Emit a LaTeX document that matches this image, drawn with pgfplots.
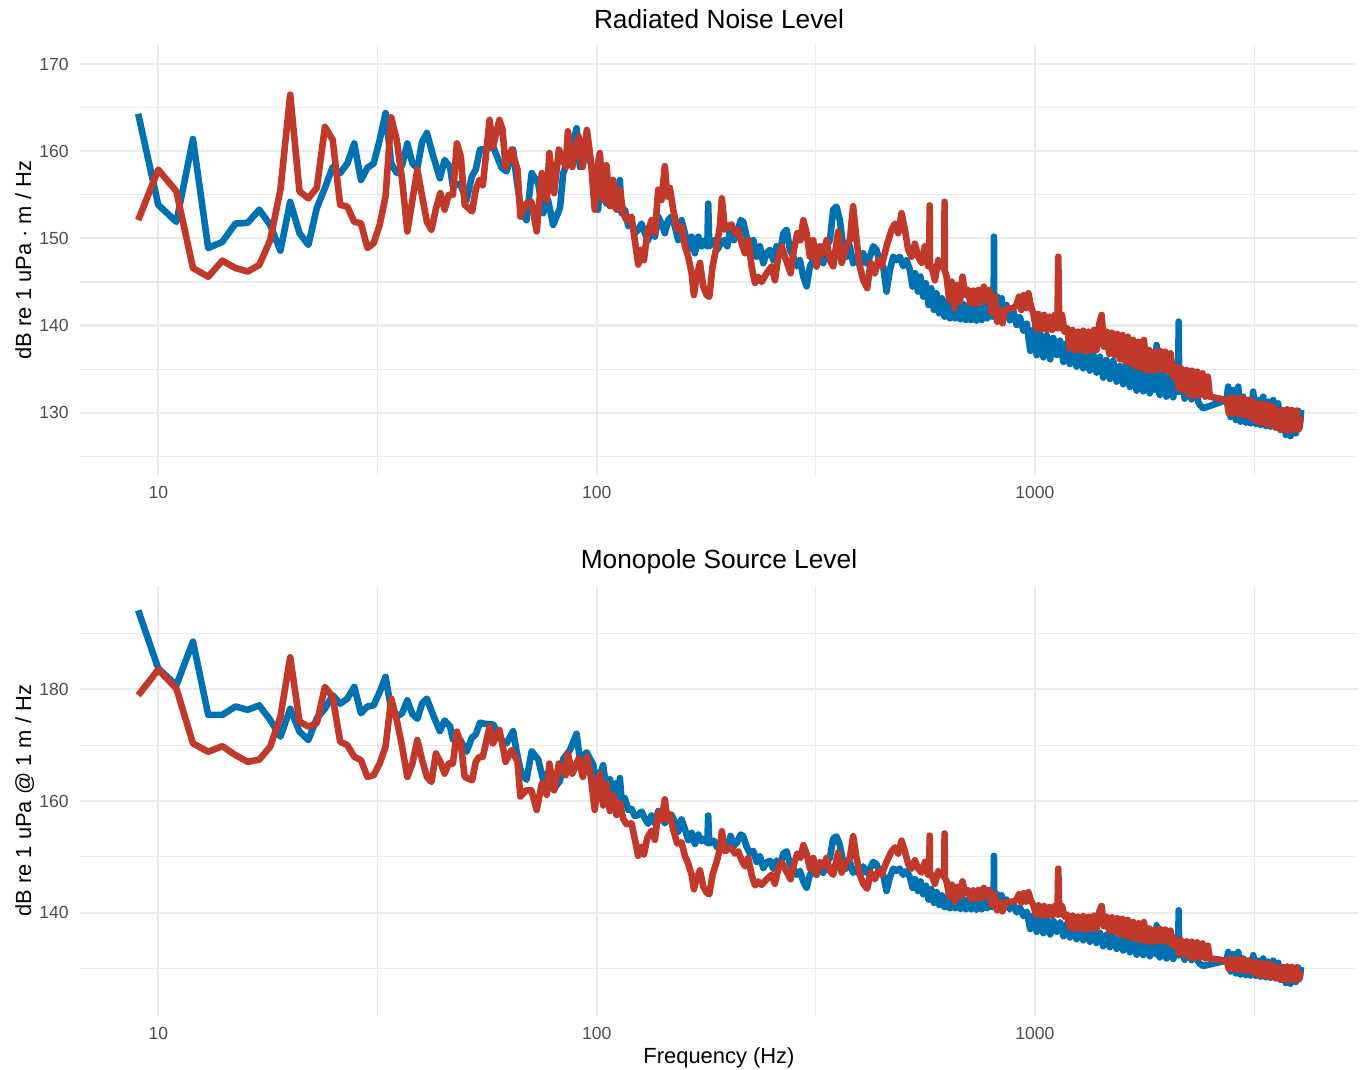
\documentclass[border=0pt]{standalone}
\usepackage{fontspec}
\setmainfont{Liberation Sans}
\usepackage{pgfplots}
\usepackage{pgfplotstable}
\pgfplotsset{compat=1.18}
\definecolor{cblue}{HTML}{0072B2}
\definecolor{cred}{HTML}{C0392B}
\definecolor{grid92}{HTML}{EBEBEB}
\definecolor{grey30}{HTML}{4D4D4D}

% ---------- shared high-frequency part (identical in both panels) ----------
\pgfplotstableread{
f y
266.6 150.6
271.3 151.0
276.0 148.7
280.9 147.9
285.9 146.8
290.9 147.5
296.1 145.6
301.3 144.5
306.6 146.8
312.0 147.5
317.5 146.8
323.1 148.3
328.8 147.15
334.6 149.1
340.5 149.8
346.5 153.3
352.6 153.65
358.8 152.1
365.2 149.1
371.6 147.9
378.2 149.1
384.8 147.15
391.7 147.9
398.6 146.8
405.6 148.3
412.8 147.15
420.1 147.9
427.5 149.1
435.0 148.7
442.7 147.15
450.5 146.8
458.5 143.9
466.7 146.4
474.9 147.9
483.3 147.5
491.8 147.9
500.5 146.8
509.3 147.5
518.3 146.38
525.6 144.47
533.0 146.0
540.6 143.9
548.2 145.62
556.0 143.32
563.8 144.85
571.8 142.36
579.8 144.28
588.0 141.79
596.2 143.7
604.6 141.41
613.2 143.13
621.8 141.02
630.6 142.75
639.5 140.83
648.5 142.55
657.6 140.83
666.9 142.63
676.2 140.72
685.7 142.48
695.4 140.64
705.2 142.36
715.1 140.64
725.1 142.25
735.4 140.57
745.8 142.17
756.3 140.64
766.9 142.36
777.8 140.83
789.0 142.75
798.8 141.02
805 142.55
806 150.2
807 142.36
819.6 143.32
831.8 141.6
839 143.13
847 141.14
861 142.37
876 140.6
892 141.68
908 140.07
924 140.95
941 139.42
958 140.22
975 137.1
991 139.5
1009 136.6
1027 139.19
1045 136.36
1064 138.88
1083 136.13
1101 138.58
1121 136.62
1141 138.27
1161 135.82
1180 137.96
1201 135.59
1222 137.39
1244 135.29
1266 137.35
1288 135.09
1311 137.0
1334 134.83
1358 136.74
1382 134.6
1406 136.43
1431 134.02
1456 136.05
1482 133.87
1508 135.97
1535 133.56
1562 135.36
1589 133.26
1617 135.51
1646 132.95
1675 135.29
1705 132.53
1735 135.09
1765 132.45
1797 134.83
1828 132.22
1861 134.71
1887 132.6
1894 137.77
1900 133.0
1927 132.03
1961 134.52
1995 131.84
2031 134.14
2067 131.76
2103 134.44
2121 132.4
2127 140.45
2133 132.4
2155 134.9
2194 131.61
2236 134.52
2276 131.53
2316 133.75
2357 131.27
2377 130.9
2419 130.5
2735 131.46
2759 133.0
2793 129.5
2832 132.6
2872 129.16
2908 133.0
2943 128.97
2985 131.84
3027 128.86
3064 131.46
3102 128.78
3146 132.42
3191 128.7
3230 131.46
3270 128.59
3316 131.84
3362 128.47
3404 131.27
3446 128.4
3494 131.46
3544 128.28
3587 131.07
3632 128.01
3683 129.54
3735 127.44
3781 129.35
3828 127.32
3882 129.74
3937 127.63
3984 130.23
4019 128.4
4046 130.31
}\bhigh

\pgfplotstableread{
f y
183.9 146.8
187.8 149.1
191.1 151.4
193.1 154.6
196.2 151.0
199.6 151.4
203.2 151.6
206.8 150.6
210.4 151.0
214.2 149.4
218.0 148.3
221.8 149.8
225.7 146.8
229.7 144.9
233.7 145.6
237.9 145.0
244.2 146.0
250.7 146.8
255.1 145.2
259.7 147.9
264.3 149.1
268.9 147.9
273.6 146.8
277.0 146.0
281.9 148.7
286.9 150.6
291.9 149.8
296.1 152.1
301.3 150.6
306.6 147.9
312.0 149.8
317.5 146.8
323.1 149.1
328.8 148.3
334.6 149.8
340.5 147.5
346.5 146.8
355.7 150.8
362.3 147.2
371.6 149.1
378.2 149.8
384.8 153.7
391.7 149.8
398.6 146.8
405.6 145.2
414.3 144.3
421.6 147.2
431.2 146.0
438.8 147.5
446.6 146.8
458.5 149.1
470.8 151.0
479.1 151.7
487.5 150.6
496.1 152.9
504.9 151.0
513.8 148.7
522.9 147.9
532.1 149.4
541.5 147.9
551.1 147.2
560.9 149.1
570.7 146.8
574 146.8
575 153.8
576 146.8
580.8 146.8
591.0 145.2
601.5 147.5
612.1 146.8
621 146.5
622 154.2
623 146.3
628.4 145.62
637.3 142.94
646.2 145.04
655.3 142.0
664.5 144.66
673.8 142.75
683.3 145.62
692.9 143.51
702.6 144.09
712.5 142.55
722.6 144.01
732.8 142.48
743.1 144.09
753.6 142.63
764.3 144.47
775.0 142.94
786.0 144.09
797.0 141.41
808.6 143.32
819.6 140.45
831.8 141.79
843 140.26
854 141.79
869 142.0
892 142.0
908 142.37
919 143.32
930 141.79
942 143.5
954 142.0
966 143.7
979 142.17
991 141.41
1005 139.69
1019 141.33
1034 139.57
1049 141.22
1064 139.5
1079 141.02
1094 139.5
1109 141.22
1125 139.69
1130 147.9
1136 139.69
1152 141.22
1168 139.3
1184 139.69
1201 137.39
1218 139.5
1235 137.12
1253 139.3
1270 137.2
1288 139.42
1306 137.0
1325 139.3
1344 137.12
1363 139.5
1382 137.2
1401 140.18
1419 141.22
1436 137.58
1456 139.3
1477 136.74
1498 139.19
1519 136.62
1540 139.04
1562 136.13
1584 138.92
1606 135.86
1628 138.73
1651 135.67
1675 138.35
1699 135.29
1723 138.15
1747 135.09
1772 138.35
1797 134.9
1822 137.2
1848 134.83
1874 137.0
1900 134.9
1927 137.12
1954 134.98
1982 137.0
2010 134.71
2038 136.82
2067 134.14
2096 135.29
2126 132.8
2155 135.09
2186 132.53
2217 134.9
2248 132.03
2280 134.83
2312 131.92
2344 134.71
2377 132.03
2411 134.52
2445 131.84
2479 134.14
2505 131.84
2735 131.46
2769 129.93
2802 131.76
2837 129.93
2872 131.65
2908 129.85
2943 131.76
2980 129.74
3016 131.53
3054 129.62
3091 131.46
3130 129.35
3168 131.15
3208 128.97
3247 131.0
3287 128.86
3327 131.0
3368 128.7
3410 130.88
3452 128.59
3494 130.69
3537 128.32
3581 130.23
3625 128.09
3670 130.31
3715 128.01
3761 130.39
3808 127.94
3855 130.31
3902 128.01
3950 130.23
3999 128.09
4040 129.54
}\rhigh

% ---------- top panel, low/mid frequencies ----------
\pgfplotstableread{
f y
9 164.3
10 153.85
11 151.9
12 161.4
13 148.9
14 149.6
15 151.7
16 151.8
17 153.3
18 151.55
19 148.6
20 154.2
21 150.6
22 149.25
23 153.5
24 155.8
25 158.2
26 157.5
27 158.6
28 160.9
29 156.7
30 158.1
31 158.6
32 161.3
33 164.4
34 158.6
35 157.5
36 158.4
37 160.9
38 158.6
39 158.1
40 161.1
41 162.1
42.4 159.4
43.9 156.9
45 159.0
46.3 158.2
47 156.0
48.8 156.3
50.5 154.4
51.9 157.1
53 157.9
54.2 160.2
55.6 160.2
58.1 160.5
60.7 158.1
62.3 157.7
64.5 160.2
65.7 156.7
67.4 152.9
69.2 152.1
71.1 157.5
73.6 156.3
75.5 152.9
77.5 154.4
79.6 151.55
82.5 153.5
83.9 157.5
86.9 159.4
90.0 162.65
91.6 158.2
94.9 159.8
98.2 157.9
100.8 153.3
101.7 156.3
103.5 158.25
105.3 154.0
107.2 156.0
109.1 153.7
111.0 155.6
112.6 153.3
113.0 156.7
114.0 152.9
116.0 153.3
118.1 151.4
120.1 151.7
122.2 150.6
124.4 151.0
126.6 151.7
128.8 150.6
131.1 149.8
133.4 151.4
135.8 150.2
138.2 152.5
140.6 151.7
143.1 150.6
145.6 152.1
148.2 152.5
150.8 151.4
153.5 149.8
156.2 152.1
159.0 150.6
161.8 148.7
164.7 150.2
167.6 148.3
170.6 150.2
173.6 149.1
176.6 149.8
178.9 149.1
179.7 154.0
180.7 149.1
185.2 149.8
188.4 148.7
191.8 149.4
195.2 149.8
198.6 149.1
202.1 151.4
205.7 149.8
209.3 150.6
213.1 152.1
216.1 151.9
219.9 150.2
223.8 149.1
227.7 149.8
231.7 147.9
235.8 149.1
240.0 147.15
244.2 148.3
248.5 148.7
252.9 147.5
257.4 149.1
262.0 148.3
}\tb
\pgfplotstablevertcat{\tb}{\bhigh}

\pgfplotstableread{
f y
9 152.1
10 157.9
11 155.4
12 146.6
13 145.6
14 147.45
15 146.6
16 146.2
17 146.95
18 149.8
19 155.6
20 166.5
21 155.4
22 154.6
23 155.8
24 162.8
25 161.3
26 153.85
27 153.65
28 151.9
29 151.75
30 148.9
31 149.45
32 151.55
33 154.8
34 163.9
35 161.3
36 156.7
37 150.8
38 154.4
39 157.9
40 154.8
41 151.9
42 151.0
43 153.4
44 155.2
45 153.3
46 155.0
47 155.0
48 160.9
49 159.4
50 153.85
52 153.1
53 155.6
54 156.7
55 156.1
57 163.6
58 160.5
60 163.6
61 162.5
62 158.2
64 160.2
66 157.9
67 152.5
69 154.0
71 154.2
73 150.8
75 157.5
77 154.4
78 159.8
80 155.2
82 160.2
85 158.2
86 162.3
88 158.2
91 161.7
93 158.2
95 162.45
97 159.0
99 153.3
101 159.0
101.7 159.8
103.5 154.4
105.3 158.4
107.2 153.7
109.1 156.7
111.0 153.3
113.0 155.6
115.0 152.9
117.0 152.1
120.1 152.5
122.2 149.8
124.4 147.0
126.6 148.7
128.2 147.5
130.5 150.6
133.4 152.1
135.8 150.6
138.2 155.6
140.6 154.4
143.1 158.3
144.9 154.8
146.9 155.8
149.5 153.3
152.7 151.0
156.2 151.4
159.0 149.1
161.8 147.9
164.7 146.0
166.7 143.5
169.1 145.6
172.1 147.2
175.1 144.5
178.2 143.5
180.7 143.3
}\tr
\pgfplotstablevertcat{\tr}{\rhigh}

% ---------- bottom panel, low/mid frequencies ----------
\pgfplotstableread{
f y
9 194.1
10 183.7
11 180.7
12 188.5
13 175.4
14 175.4
15 176.9
16 176.3
17 177.1
18 174.5
19 171.5
20 176.5
21 172.4
22 170.9
23 174.8
24 176.5
25 178.9
26 177.4
27 178.3
28 180.4
29 175.7
30 176.9
31 177.1
32 179.5
33 182.2
34 176.4
35 175.1
36 175.7
37 178.0
38 175.5
39 174.7
40 177.5
41 178.3
42.4 175.3
43.9 172.5
45 174.4
46.3 173.35
47 171.0
48.8 171.0
50.5 168.8
51.9 171.3
53 171.9
54.2 174.0
55.6 173.8
58.1 173.7
60.7 170.9
62.3 170.3
64.5 172.5
65.7 168.8
67.4 164.8
69.2 163.8
71.1 168.9
73.6 167.4
75.5 163.8
77.5 165.1
79.6 162.0
82.5 163.6
83.9 167.5
86.9 169.1
90.0 172.0
91.6 167.4
94.9 168.7
98.2 166.5
100.8 161.7
101.7 164.6
103.5 166.4
105.3 162.0
107.2 163.9
109.1 161.4
111.0 163.2
112.6 160.7
113.0 164.1
114.0 160.2
116.0 160.5
118.1 158.4
120.1 158.6
122.2 157.3
124.4 157.5
126.6 158.1
128.8 156.9
131.1 155.9
133.4 157.4
135.8 156.0
138.2 158.2
140.6 157.2
143.1 156.0
145.6 157.3
148.2 157.55
150.8 156.3
153.5 154.5
156.2 156.7
159.0 155.0
161.8 153.0
164.7 154.3
167.6 152.3
170.6 154.0
173.6 152.8
176.6 153.3
178.9 152.5
179.7 157.4
180.7 152.4
185.2 152.9
188.4 151.7
191.8 152.2
195.2 152.5
198.6 151.6
202.1 153.75
205.7 152.0
209.3 152.65
213.1 154.0
216.1 153.7
219.9 151.8
223.8 150.6
227.7 151.1
231.7 149.1
235.8 150.1
240.0 148.0
244.2 149.0
248.5 149.3
252.9 147.9
257.4 149.35
262.0 148.4
}\bb
\pgfplotstablevertcat{\bb}{\bhigh}

\pgfplotstableread{
f y
9 178.9
10 183.5
11 180.1
12 170.3
13 168.8
14 169.8
15 168.2
16 167.0
17 167.4
18 169.7
19 175.1
20 185.7
21 174.2
22 173.3
23 173.9
24 180.4
25 178.6
26 170.6
27 170.0
28 167.9
29 167.3
30 164.3
31 164.6
32 166.7
33 169.7
34 178.3
35 174.5
36 169.7
37 164.3
38 166.7
39 170.9
40 167.3
41 164.3
42 163.4
43 168.5
44 167.0
45 164.9
46 166.7
47 166.7
48 172.4
49 170.3
50 164.3
52 163.7
53 167.0
54 167.9
55 167.9
57 173.3
58 170.3
60 172.7
61 170.0
62 167.0
64 169.1
66 167.0
67 160.8
69 161.9
71 161.9
73 158.4
75 163.1
77 161.1
78 166.7
80 161.9
82 166.7
85 164.6
86 168.5
88 164.9
91 167.6
93 164.3
95 167.9
97 164.3
99 158.4
101 164.3
101.7 164.8
103.5 159.2
105.3 163.1
107.2 158.2
109.1 161.05
111.0 157.5
113.0 159.65
115.0 156.8
117.0 155.85
120.1 156.0
122.2 153.2
124.4 150.2
126.6 151.8
128.2 150.45
130.5 153.4
133.4 154.7
135.8 153.05
138.2 157.9
140.6 156.55
143.1 160.3
144.9 156.7
146.9 157.6
149.5 154.9
152.7 152.4
156.2 152.6
159.0 150.2
161.8 148.8
164.7 146.8
166.7 144.2
169.1 146.15
172.1 147.6
175.1 144.7
178.2 143.6
180.7 143.3
}\br
\pgfplotstablevertcat{\br}{\rhigh}

\begin{document}
\begin{tikzpicture}
\useasboundingbox (0,0) rectangle (681.5bp,535bp);

\begin{axis}[
  at={(40bp,297.5bp)}, anchor=south west,
  scale only axis, width=639bp, height=215bp,
  xmode=log, xmin=6.63, xmax=5456,
  ymin=122.85, ymax=172.2,
  axis line style={draw=none},
  major tick length=0pt, minor tick length=0pt,
  xtick={10,100,1000}, xticklabels={10,100,1000},
  minor xtick={31.623,316.23,3162.3},
  ytick={130,140,150,160,170}, yticklabels={130,140,150,160,170},
  minor ytick={125,135,145,155,165},
  xmajorgrids, ymajorgrids, xminorgrids, yminorgrids,
  major grid style={draw=grid92, line width=1.07bp},
  minor grid style={draw=grid92, line width=0.53bp},
  tick label style={font=\fontsize{8.8}{10}\selectfont, text=grey30},
  xticklabel style={anchor=north, inner sep=0pt, yshift=-5.5bp},
  yticklabel style={anchor=east, inner sep=0pt, xshift=-5.5bp},
]
\addplot[cblue, line width=3.3bp, line join=round, line cap=butt, mark=none] table[x=f, y=y] {\tb};
\addplot[cred, line width=3.3bp, line join=round, line cap=butt, mark=none] table[x=f, y=y] {\tr};
\end{axis}

\begin{axis}[
  at={(40bp,27.15bp)}, anchor=south west,
  scale only axis, width=639bp, height=215bp,
  xmode=log, xmin=6.63, xmax=5456,
  ymin=121.6, ymax=198.5,
  axis line style={draw=none},
  major tick length=0pt, minor tick length=0pt,
  xtick={10,100,1000}, xticklabels={10,100,1000},
  minor xtick={31.623,316.23,3162.3},
  ytick={140,160,180}, yticklabels={140,160,180},
  minor ytick={130,150,170,190},
  xmajorgrids, ymajorgrids, xminorgrids, yminorgrids,
  major grid style={draw=grid92, line width=1.07bp},
  minor grid style={draw=grid92, line width=0.53bp},
  tick label style={font=\fontsize{8.8}{10}\selectfont, text=grey30},
  xticklabel style={anchor=north, inner sep=0pt, yshift=-5.5bp},
  yticklabel style={anchor=east, inner sep=0pt, xshift=-5.5bp},
]
\addplot[cblue, line width=3.3bp, line join=round, line cap=butt, mark=none] table[x=f, y=y] {\bb};
\addplot[cred, line width=3.3bp, line join=round, line cap=butt, mark=none] table[x=f, y=y] {\br};
\end{axis}

\node[anchor=base, font=\fontsize{13.2}{15}\selectfont] at (359.5bp,520.8bp) {Radiated Noise Level};
\node[anchor=base, font=\fontsize{13.2}{15}\selectfont] at (359.5bp,250.5bp) {Monopole Source Level};
\node[anchor=base, rotate=90, font=\fontsize{11}{13}\selectfont] at (15.5bp,405bp) {dB re 1 uPa · m / Hz};
\node[anchor=base, rotate=90, font=\fontsize{11}{13}\selectfont] at (15.5bp,134.65bp) {dB re 1 uPa @ 1 m / Hz};
\node[anchor=base, font=\fontsize{11}{13}\selectfont] at (359.5bp,3.2bp) {Frequency (Hz)};
\end{tikzpicture}
\end{document}
